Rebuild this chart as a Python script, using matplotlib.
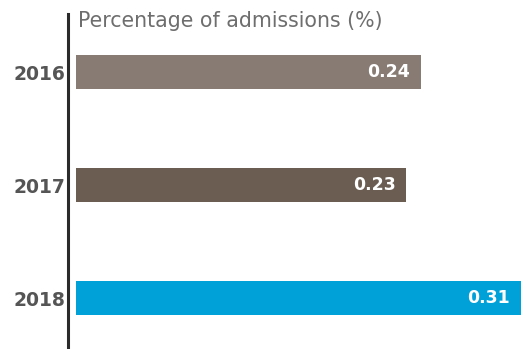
import matplotlib
matplotlib.use("Agg")
import matplotlib.pyplot as plt

years = ["2016", "2017", "2018"]
shares = [0.24, 0.23, 0.31]
bar_colors = ["#877b74", "#6b5d52", "#00a0d9"]
axis_title = "Percentage of admissions (%)"

plt.rcParams["font.family"] = ["DejaVu Sans"]

fig = plt.figure(figsize=(5.21, 3.49), dpi=100)
# axes span from the first bar's left edge to the right border
ax = fig.add_axes([76 / 521, 0, 445 / 521, 335 / 349])

for side in ["top", "right", "bottom"]:
    ax.spines[side].set_visible(False)
ax.spines["left"].set_position(("outward", 6))
ax.spines["left"].set_linewidth(2.2)
ax.spines["left"].set_color("#2b2b2b")

pos = list(range(len(years)))
bars = ax.barh(pos, shares, height=0.3, color=bar_colors)
ax.set_xlim(0, max(shares))
ax.set_ylim(2.45, -0.513)

for bar, v in zip(bars, shares):
    ax.text(v - 0.0075, bar.get_y() + bar.get_height() / 2, f"{v:.2f}",
            ha="right", va="center", color="white", fontsize=12.5,
            fontweight="bold")

ax.set_xticks([])
ax.set_yticks(pos)
ax.tick_params(axis="y", length=0, pad=2)
ax.set_yticklabels(years, fontsize=13.5, fontweight="bold", color="#555555")

fig.text(78 / 521, 1 - 21 / 349, axis_title, ha="left", va="center",
         fontsize=14.8, color="#6e6e6e")

fig.savefig("out.png", dpi=100)
